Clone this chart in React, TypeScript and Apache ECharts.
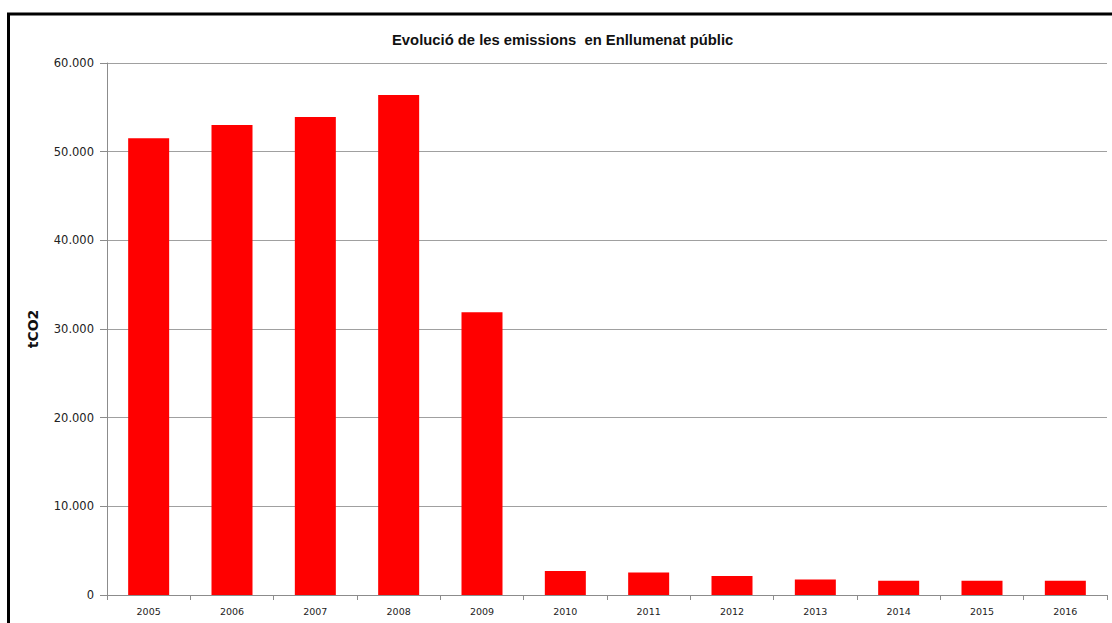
import React, { useEffect, useRef } from "react";
import * as echarts from "echarts";

const years = ["2005", "2006", "2007", "2008", "2009", "2010", "2011", "2012", "2013", "2014", "2015", "2016"];
const emissions = [51500, 53000, 53900, 56400, 31900, 2700, 2550, 2150, 1750, 1620, 1620, 1620];
const titleText = "Evolució de les emissions  en Enllumenat públic";
const yName = "tCO2";

const fmt = (v: number) => {
  if (v === 0) return "0";
  const s = Math.round(v).toString();
  return s.replace(/\B(?=(\d{3})+(?!\d))/g, ".");
};

export default function App() {
  const ref = useRef<HTMLDivElement>(null);
  useEffect(() => {
    if (!ref.current) return;
    const chart = echarts.init(ref.current, undefined, { renderer: "svg" });
    chart.setOption({
      animation: false,
      backgroundColor: "#ffffff",
      title: {
        text: titleText,
        left: 387,
        top: 27,
        textStyle: {
          fontFamily: "Liberation Sans, Arial, sans-serif",
          fontWeight: "bold",
          fontSize: 14.8,
          color: "#111",
        },
      },
      graphic: [
        {
          type: "rect",
          shape: { x: 8.5, y: 14, width: 1200, height: 700 },
          style: { fill: "none", stroke: "#000", lineWidth: 3 },
          z: 100,
        },
      ],
      grid: { left: 107, right: 5, top: 63, bottom: 28, containLabel: false },
      xAxis: {
        type: "category",
        data: years,
        axisLine: { lineStyle: { color: "#8c8c8c", width: 1 } },
        axisTick: { show: true, length: 5, lineStyle: { color: "#8c8c8c" } },
        axisLabel: {
          fontFamily: "DejaVu Sans, sans-serif",
          fontSize: 9.5,
          color: "#222",
          margin: 11,
        },
      },
      yAxis: {
        type: "value",
        min: 0,
        max: 60000,
        interval: 10000,
        name: yName,
        nameLocation: "middle",
        nameGap: 67,
        nameTextStyle: {
          fontFamily: "DejaVu Sans, sans-serif",
          fontWeight: "bold",
          fontSize: 14,
          color: "#111",
        },
        axisLine: { show: true, lineStyle: { color: "#8c8c8c", width: 1 } },
        axisTick: { show: true, length: 7, lineStyle: { color: "#8c8c8c" } },
        splitLine: { show: true, lineStyle: { color: "#a0a0a0", width: 1 } },
        axisLabel: {
          fontFamily: "DejaVu Sans, sans-serif",
          fontSize: 11.5,
          color: "#222",
          margin: 13,
          formatter: (v: number) => fmt(v),
        },
      },
      series: [
        {
          type: "bar",
          data: emissions,
          barWidth: 41,
          itemStyle: { color: "#ff0000" },
        },
      ],
    });
    return () => chart.dispose();
  }, []);
  return (
    <div
      ref={ref}
      style={{ position: "fixed", left: 0, top: 0, width: 1112, height: 623 }}
    />
  );
}
